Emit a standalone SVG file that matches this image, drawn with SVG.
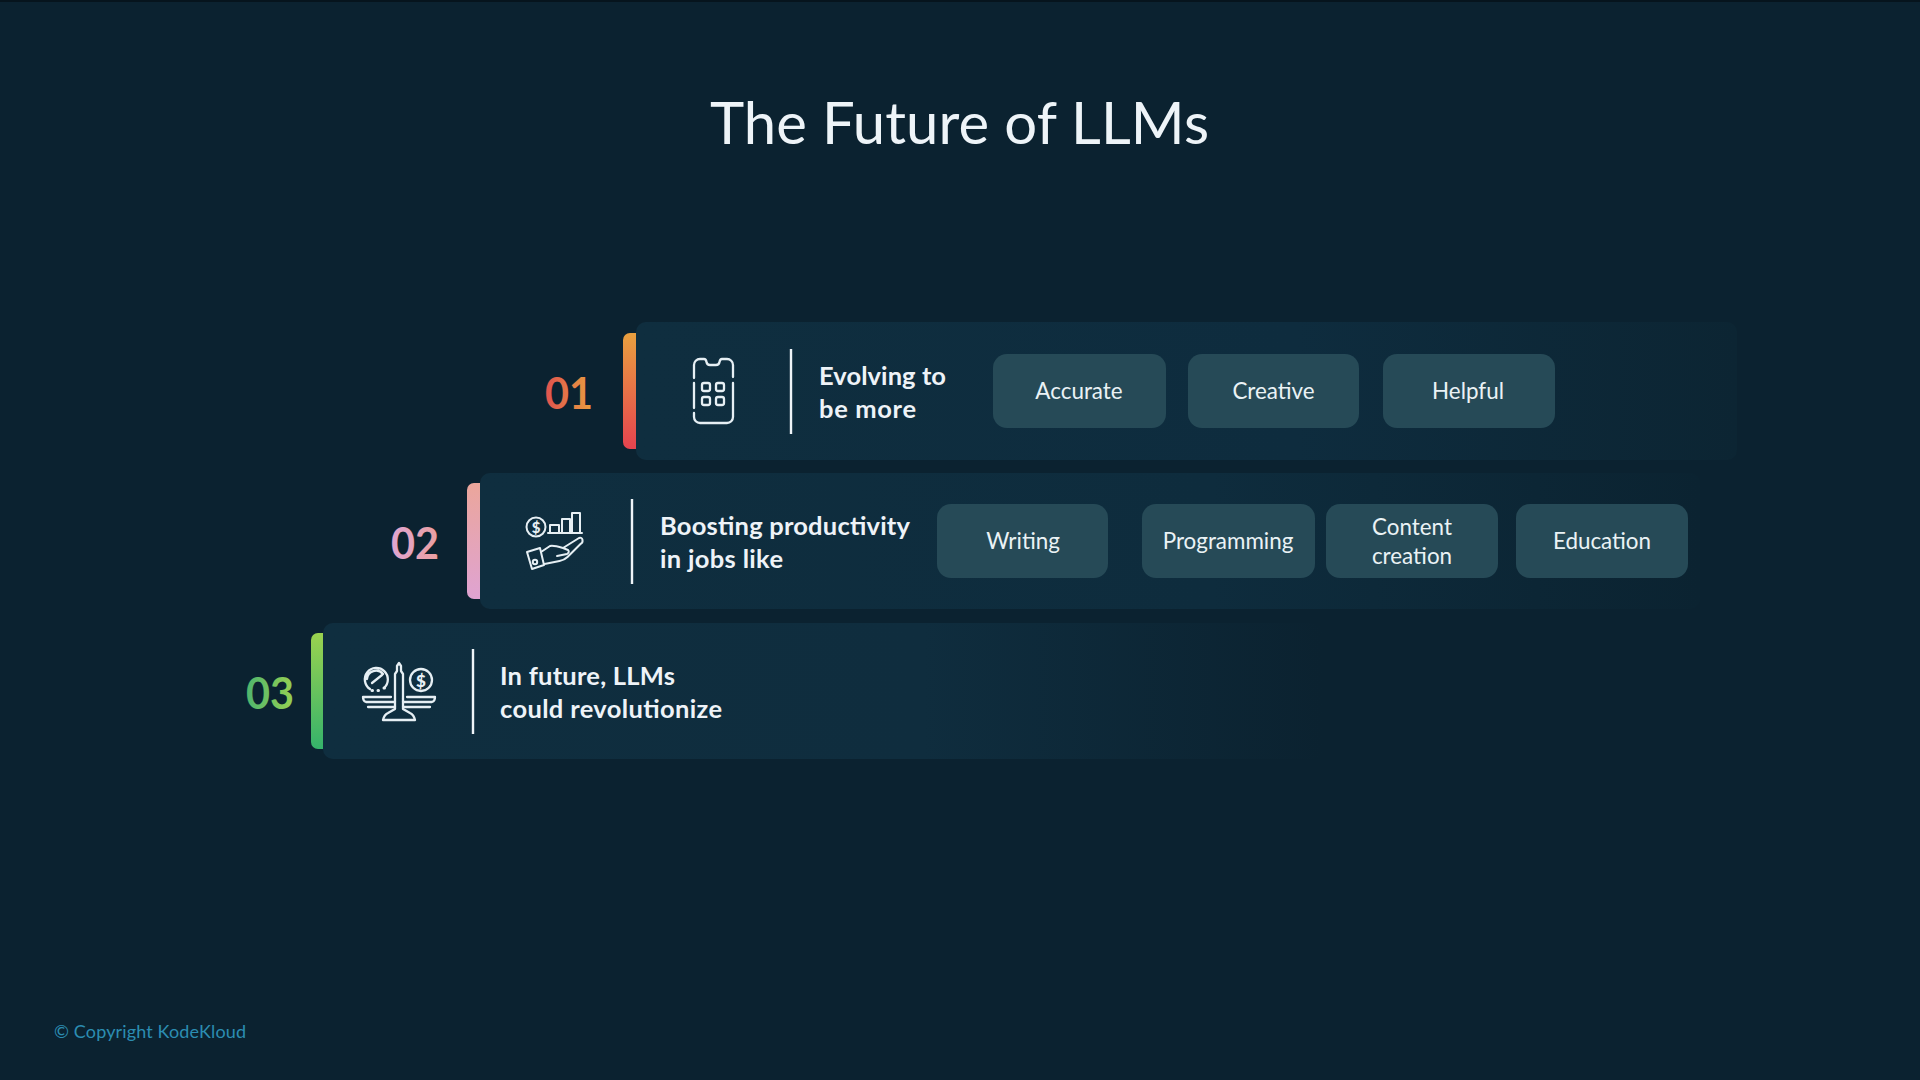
<svg xmlns="http://www.w3.org/2000/svg" width="1920" height="1080" viewBox="0 0 1920 1080">
<defs>
<linearGradient id="band" x1="0" y1="0" x2="1" y2="0"><stop offset="0" stop-color="#0f2e3f"/><stop offset="0.6" stop-color="#0e2c3e"/><stop offset="1" stop-color="#0c2533"/></linearGradient>
<linearGradient id="band2" x1="0" y1="0" x2="1" y2="0"><stop offset="0" stop-color="#0f2e3f"/><stop offset="0.6" stop-color="#0e2c3d"/><stop offset="1" stop-color="#0b2331"/></linearGradient>
<linearGradient id="band3" x1="0" y1="0" x2="1" y2="0"><stop offset="0" stop-color="#0f2e3f"/><stop offset="0.6" stop-color="#0f2d3e"/><stop offset="1" stop-color="#0b2230"/></linearGradient>
<linearGradient id="b1" x1="0" y1="0" x2="0" y2="1"><stop offset="0" stop-color="#e9a03f"/><stop offset="1" stop-color="#e5434f"/></linearGradient>
<linearGradient id="b2" x1="0" y1="0" x2="0" y2="1"><stop offset="0" stop-color="#eba69b"/><stop offset="1" stop-color="#dfa3d2"/></linearGradient>
<linearGradient id="b3" x1="0" y1="0" x2="0" y2="1"><stop offset="0" stop-color="#9ad24f"/><stop offset="1" stop-color="#35b36b"/></linearGradient>
<linearGradient id="n1" x1="0" y1="0" x2="1" y2="0"><stop offset="0" stop-color="#e0524f"/><stop offset="1" stop-color="#e9a03f"/></linearGradient>
<linearGradient id="n2" x1="0" y1="0" x2="1" y2="0"><stop offset="0" stop-color="#dfa6d2"/><stop offset="1" stop-color="#eb9fa0"/></linearGradient>
<linearGradient id="n3" x1="0" y1="0" x2="1" y2="0"><stop offset="0" stop-color="#4fb56e"/><stop offset="1" stop-color="#96d052"/></linearGradient>
</defs>
<style>
text{font-family:"Lato","Liberation Sans",sans-serif}
.title{font-size:58px;fill:#eef4f8;text-anchor:middle}
.num{font-size:44px;font-weight:700}
.lead{font-size:25.5px;font-weight:700;fill:#eef3f8}
.chip rect{fill:#264a57}
.chip text{font-size:22.400px;fill:#eaf2f5;text-anchor:middle}
.div{stroke:#eef4f8;stroke-width:2.4}
.ic{fill:none;stroke:#e6eff4;stroke-width:2.300;stroke-linecap:round;stroke-linejoin:round}
.glyph{fill:#e6eff4;stroke:none;text-anchor:middle;font-weight:900}
.copy{font-size:18px;fill:#2b8db2}
</style>
<rect width="1920" height="1080" fill="#0b2230"/>
<rect width="1920" height="2" fill="#06141d"/>
<text class="title" x="959.500" y="144" textLength="499">The Future of LLMs</text>

<g id="row-1">
<rect x="636" y="322" width="1101" height="138" rx="10" fill="url(#band)"/>
<path d="M636 333h-6a7 7 0 0 0-7 7v102a7 7 0 0 0 7 7h6z" fill="url(#b1)"/>
<text class="num" x="545" y="409" fill="url(#n1)" textLength="48" lengthAdjust="spacingAndGlyphs">01</text>
<g class="ic">
<path d="M694 378v-13a6 6 0 0 1 6-6h4q2 0 2.500 3t3.500 3h6q3 0 3.500-3t2.500-3h5a6 6 0 0 1 6 6v12"/>
<path d="M733 383v34a6 6 0 0 1-6 6h-27a6 6 0 0 1-6-6v-4"/>
<path d="M694 408v-25"/>
<rect x="702" y="383" width="8" height="8" rx="2"/><rect x="716" y="383" width="8" height="8" rx="2"/>
<rect x="702" y="397" width="8" height="8" rx="2"/><rect x="716" y="397" width="8" height="8" rx="2"/>
</g>
<line class="div" x1="791" y1="349" x2="791" y2="434"/>
<text class="lead" x="819" y="385" textLength="127">Evolving to</text>
<text class="lead" x="819" y="418" textLength="97">be more</text>
<g class="chip" id="chip-accurate"><rect x="993" y="354" width="173" height="74" rx="14"/><text x="1079" y="399">Accurate</text></g>
<g class="chip" id="chip-creative"><rect x="1188" y="354" width="171" height="74" rx="14"/><text x="1273.500" y="399">Creative</text></g>
<g class="chip" id="chip-helpful"><rect x="1383" y="354" width="172" height="74" rx="14"/><text x="1468" y="399">Helpful</text></g>
</g>

<g id="row-2">
<rect x="480" y="473" width="1220" height="136" rx="10" fill="url(#band2)"/>
<path d="M480 483h-6a7 7 0 0 0-7 7v102a7 7 0 0 0 7 7h6z" fill="url(#b2)"/>
<text class="num" x="391" y="559" fill="url(#n2)" textLength="48" lengthAdjust="spacingAndGlyphs">02</text>
<g class="ic" style="stroke-width:2">
<circle cx="536" cy="527" r="9.500"/>
<text class="glyph" x="536" y="532.500" style="font-size:15px">$</text>
<path d="M548 533h34M550 533v-8h9v8M562 533v-14h8v14M572 533v-20h8v20"/>
<path d="M527 552l13-4 4 17-12 4z"/>
<circle cx="535" cy="562" r="2.200"/>
<path d="M541 552l9-6q3-1 13 2l5 2q2 2-1 4l-10 2M563 548l16-10q3-1 3.500 2t-2 4l-13 13q-3 3-8 4l-15 3"/>
</g>
<line class="div" x1="632" y1="499" x2="632" y2="584"/>
<text class="lead" x="660" y="535" textLength="250">Boosting productivity</text>
<text class="lead" x="660" y="568" textLength="123">in jobs like</text>
<g class="chip" id="chip-writing"><rect x="937" y="504" width="171" height="74" rx="14"/><text x="1023" y="549">Writing</text></g>
<g class="chip" id="chip-programming"><rect x="1142" y="504" width="173" height="74" rx="14"/><text x="1228" y="549">Programming</text></g>
<g class="chip" id="chip-content"><rect x="1326" y="504" width="172" height="74" rx="14"/><text x="1412" y="535">Content</text><text x="1412" y="564">creation</text></g>
<g class="chip" id="chip-education"><rect x="1516" y="504" width="172" height="74" rx="14"/><text x="1602" y="549">Education</text></g>
</g>

<g id="row-3">
<rect x="323" y="623" width="1000" height="136" rx="10" fill="url(#band3)"/>
<path d="M323 633h-5a7 7 0 0 0-7 7v102a7 7 0 0 0 7 7h5z" fill="url(#b3)"/>
<text class="num" x="246" y="709" fill="url(#n3)" textLength="48" lengthAdjust="spacingAndGlyphs">03</text>
<g class="ic">
<path d="M370 689a11.500 11.500 0 1 1 14-1M367 679a9 9 0 0 1 16-5M372 683l10-8"/>
<path d="M372 690.500h.5M378 690.500h.5M384 688h.5" style="stroke-width:3"/>
<circle cx="421" cy="680" r="11"/><text class="glyph" x="421" y="686.500" style="font-size:17px">$</text>
<path d="M395 699v-25l2-3v-5l2-3 2 3v5l2 3v25"/>
<path d="M383 720q1-5 5-7l7-4v-10M415 720q-1-5-5-7l-7-4v-10M383 720h32"/>
<path d="M363 697h28M407 697h28M363 697q0 4 3 5h29M435 697q0 4-3 5h-29M368 707h27M430 707h-27"/>
</g>
<line class="div" x1="473" y1="649" x2="473" y2="734"/>
<text class="lead" x="500" y="685" textLength="175">In future, LLMs</text>
<text class="lead" x="500" y="718" textLength="222">could revolutionize</text>
</g>

<text class="copy" x="54" y="1038" textLength="192">© Copyright KodeKloud</text>
</svg>
